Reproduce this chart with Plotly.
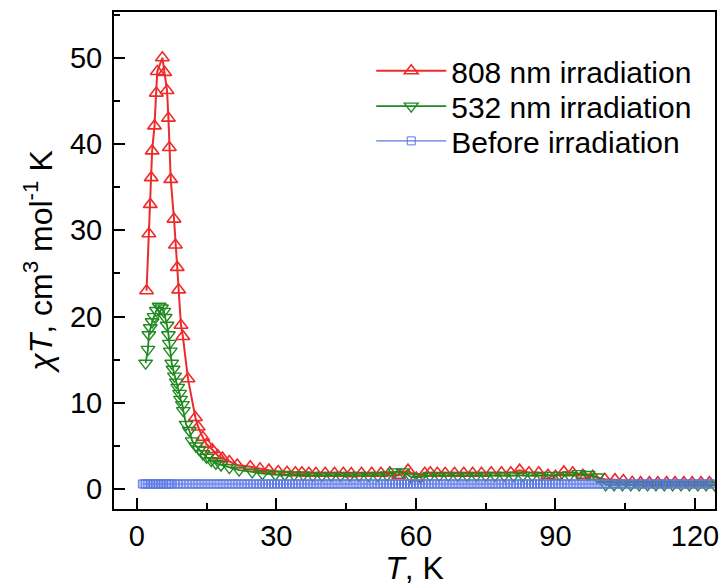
import plotly.graph_objects as go

# ---------------- data ----------------
red_T = [2.1, 2.6, 2.9, 3.1, 3.3, 3.8, 4.2, 4.4, 5.5, 6.0, 6.5, 6.8, 7.0, 7.3,
         8.0, 8.3, 8.7, 9.0, 9.5, 9.9, 11.0, 12.6, 13.2, 14.2, 15.0, 16.2,
         17.4, 18.4, 19.9, 21.6, 24.4, 26.5, 28.4, 30.4, 32.3, 34.1, 35.5,
         37.0, 38.5, 40.5, 42.5, 44.4, 46.1, 48.3, 50.5, 52.5, 54.4, 56.3,
         58.3, 60.1, 61.9, 63.1, 64.6, 66.3, 68.3, 70.3, 72.2, 74.1, 76.2,
         78.4, 80.4, 82.3, 84.3, 86.4, 88.4, 90.0, 91.8, 93.7, 95.9, 98.0,
         100.6, 102.8, 104.6, 106.5, 108.3, 110.2, 112.0, 113.9, 115.7,
         117.6, 119.4, 121.3, 123.1]
red_chiT = [23.0, 29.6, 33.0, 36.1, 39.2, 42.1, 45.9, 48.4, 50.0, 48.3, 46.2,
            43.0, 39.6, 35.9, 31.3, 28.3, 25.7, 23.1, 19.0, 17.7, 12.8, 8.3,
            7.2, 6.0, 5.2, 4.6, 3.9, 3.6, 3.2, 2.8, 2.6, 2.35, 2.2, 2.05,
            1.95, 1.9, 1.9, 1.85, 1.85, 1.85, 1.85, 1.85, 1.8, 1.85, 1.85,
            1.85, 1.9, 1.6, 2.2, 1.3, 1.85, 1.9, 1.85, 1.85, 1.85, 1.85, 1.85,
            1.85, 1.9, 1.9, 1.9, 2.2, 1.9, 1.9, 1.6, 1.5, 2.0, 1.9, 1.6, 1.5,
            1.15, 1.1, 1.0, 0.8, 0.75, 0.75, 0.75, 0.75, 0.75, 0.75, 0.75,
            0.75, 0.75]

green_T = [1.9, 2.4, 2.6, 2.9, 3.3, 3.7, 4.2, 4.8, 5.3, 5.8, 6.1, 6.5, 6.8,
           7.0, 7.2, 7.5, 7.8, 8.1, 8.5, 8.8, 9.2, 9.4, 9.8, 10.0, 10.6, 11.3,
           11.9, 12.7, 13.4, 14.2, 15.0, 16.0, 17.0, 18.1, 19.9, 22.0, 24.8,
           27.0, 29.8, 31.8, 33.8, 35.8, 37.8, 39.8, 41.8, 43.8, 45.8, 47.8,
           49.8, 51.8, 53.8, 55.5, 57.2, 59.0, 61.0, 63.0, 65.0, 67.0, 69.0,
           71.0, 73.0, 75.0, 77.0, 79.0, 81.0, 83.0, 85.0, 87.0, 89.0, 91.0,
           93.0, 95.0, 97.0, 99.0, 100.8, 102.6, 104.4, 106.2, 108.0, 109.8,
           111.6, 113.4, 115.2, 117.0, 118.8, 120.6, 122.4, 124.2]
green_chiT = [14.6, 16.2, 17.9, 18.7, 19.4, 20.0, 20.7, 21.2, 21.0, 20.6, 19.9,
              19.0, 17.9, 16.9, 16.0, 14.6, 13.9, 13.1, 12.4, 11.8, 11.1, 10.4,
              9.8, 9.1, 7.5, 6.8, 5.6, 5.0, 4.6, 4.1, 3.7, 3.3, 3.0, 2.8, 2.5,
              2.2, 2.0, 1.8, 1.7, 1.7, 1.65, 1.65, 1.6, 1.6, 1.6, 1.6, 1.6,
              1.6, 1.6, 1.6, 1.65, 2.0, 2.0, 1.4, 1.4, 1.6, 1.6, 1.6, 1.6, 1.6,
              1.6, 1.6, 1.6, 1.6, 1.6, 1.6, 1.6, 1.6, 1.6, 1.6, 1.6, 1.8, 1.7,
              1.4, 0.5, 0.5, 0.5, 0.5, 0.5, 0.5, 0.5, 0.5, 0.5, 0.5, 0.5, 0.5,
              0.5, 0.5]

blue_T = [1.20, 1.55, 1.90, 2.25, 2.60, 2.95, 3.30, 3.65, 4.00, 4.35, 4.70,
          5.05, 5.40, 5.75, 6.10, 6.45, 6.80, 7.15, 7.50,
          8.15, 8.80, 9.45, 10.10, 10.75, 11.40, 12.05, 12.70, 13.35, 14.00,
          14.65, 15.30, 15.95, 16.60, 17.25, 17.90, 18.55, 19.20, 19.85, 20.50,
          21.15, 21.80, 22.45, 23.10, 23.75, 24.40, 25.05, 25.70, 26.35, 27.00,
          27.65, 28.30, 28.95, 29.60, 30.25, 30.90, 31.55, 32.20, 32.85, 33.50,
          34.15, 34.80, 35.45, 36.10, 36.75, 37.40, 38.05, 38.70, 39.35, 40.00,
          40.65, 41.30, 41.95, 42.60, 43.25, 43.90, 44.55, 45.20, 45.85, 46.50,
          47.15, 47.80, 48.45, 49.10, 49.75, 50.40, 51.05, 51.70, 52.35, 53.00,
          53.65, 54.30, 54.95, 55.60, 56.25, 56.90, 57.55, 58.20, 58.85, 59.50,
          60.15, 60.80, 61.45, 62.10, 62.75, 63.40, 64.05, 64.70, 65.35, 66.00,
          66.65, 67.30, 67.95, 68.60, 69.25, 69.90, 70.55, 71.20, 71.85, 72.50,
          73.15, 73.80, 74.45, 75.10, 75.75, 76.40, 77.05, 77.70, 78.35, 79.00,
          79.65, 80.30, 80.95, 81.60, 82.25, 82.90, 83.55, 84.20, 84.85, 85.50,
          86.15, 86.80, 87.45, 88.10, 88.75, 89.40, 90.05, 90.70, 91.35, 92.00,
          92.65, 93.30, 93.95, 94.60, 95.25, 95.90, 96.55, 97.20, 97.85, 98.50,
          99.15, 99.80, 100.45, 101.10, 101.75, 102.40, 103.05, 103.70, 104.35,
          105.00, 105.65, 106.30, 106.95, 107.60, 108.25, 108.90, 109.55,
          110.20, 110.85, 111.50, 112.15, 112.80, 113.45, 114.10, 114.75,
          115.40, 116.05, 116.70, 117.35, 118.00, 118.65, 119.30, 119.95,
          120.60, 121.25, 121.90, 122.55, 123.20, 123.85]
blue_chiT = [0.6, 0.6, 0.6, 0.6, 0.6, 0.6, 0.6, 0.6, 0.6, 0.6, 0.6, 0.6, 0.6,
             0.6, 0.6, 0.6, 0.6, 0.6, 0.6,
             0.6, 0.6, 0.6, 0.6, 0.6, 0.6, 0.6, 0.6, 0.6, 0.6, 0.6, 0.6, 0.6,
             0.6, 0.6, 0.6, 0.6, 0.6, 0.6, 0.6, 0.6, 0.6, 0.6, 0.6, 0.6, 0.6,
             0.6, 0.6, 0.6, 0.6, 0.6, 0.6, 0.6, 0.6, 0.6, 0.6, 0.6, 0.6, 0.6,
             0.6, 0.6, 0.6, 0.6, 0.6, 0.6, 0.6, 0.6, 0.6, 0.6, 0.6, 0.6, 0.6,
             0.6, 0.6, 0.6, 0.6, 0.6, 0.6, 0.6, 0.6, 0.6, 0.6, 0.6, 0.6, 0.6,
             0.6, 0.6, 0.6, 0.6, 0.6, 0.6, 0.6, 0.6, 0.6, 0.6, 0.6, 0.6, 0.6,
             0.6, 0.6, 0.6, 0.6, 0.6, 0.6, 0.6, 0.6, 0.6, 0.6, 0.6, 0.6, 0.6,
             0.6, 0.6, 0.6, 0.6, 0.6, 0.6, 0.6, 0.6, 0.6, 0.6, 0.6, 0.6, 0.6,
             0.6, 0.6, 0.6, 0.6, 0.6, 0.6, 0.6, 0.6, 0.6, 0.6, 0.6, 0.6, 0.6,
             0.6, 0.6, 0.6, 0.6, 0.6, 0.6, 0.6, 0.6, 0.6, 0.6, 0.6, 0.6, 0.6,
             0.6, 0.6, 0.6, 0.6, 0.6, 0.6, 0.6, 0.6, 0.6, 0.6, 0.6, 0.6, 0.6,
             0.6, 0.6, 0.6, 0.6, 0.6, 0.6, 0.6, 0.6, 0.6, 0.6, 0.6, 0.6, 0.6,
             0.6, 0.6, 0.6, 0.6, 0.6, 0.6, 0.6, 0.6, 0.6, 0.6, 0.6, 0.6, 0.6,
             0.6, 0.6, 0.6, 0.6, 0.6, 0.6, 0.6, 0.6, 0.6, 0.6, 0.6]

series_names = ["808 nm irradiation", "532 nm irradiation", "Before irradiation"]
x_ticks = [0, 30, 60, 90, 120]
y_ticks = [0, 10, 20, 30, 40, 50]

# ---------------- styling ----------------
RED = "#ee2b2b"
GREEN = "#1f8a1f"
BLUE = "#5b78e4"
FONT = "Liberation Sans, Arial, sans-serif"

fig = go.Figure()
fig.add_trace(go.Scatter(
    x=red_T, y=red_chiT, name=series_names[0], mode="lines+markers",
    legend="legend",
    line=dict(color=RED, width=2),
    marker=dict(symbol="triangle-up-open", size=12, color=RED,
                line=dict(width=1.6, color=RED))))
fig.add_trace(go.Scatter(
    x=green_T, y=green_chiT, name=series_names[1], mode="lines+markers",
    legend="legend2",
    line=dict(color=GREEN, width=1.8),
    marker=dict(symbol="triangle-down-open", size=12, color=GREEN,
                line=dict(width=1.4, color=GREEN))))
fig.add_trace(go.Scatter(
    x=blue_T, y=blue_chiT, name=series_names[2], mode="lines+markers",
    legend="legend3",
    line=dict(color=BLUE, width=1.2),
    marker=dict(symbol="square-open", size=8, color=BLUE,
                line=dict(width=1, color=BLUE))))

axis_common = dict(
    showline=True, linecolor="black", linewidth=2, mirror=True,
    ticks="inside", tickcolor="black", tickwidth=2, ticklen=11,
    showgrid=False, zeroline=False,
    tickfont=dict(family=FONT, size=29, color="black"),
)

fig.update_xaxes(
    range=[-4.9, 124.3], tickvals=x_ticks,
    minor=dict(ticks="inside", ticklen=6, tickwidth=2, tickcolor="black",
               dtick=15, tick0=0),
    title=dict(text="<i>T</i>, K", font=dict(family=FONT, size=32, color="black"),
               standoff=6),
    **axis_common)
fig.update_yaxes(
    range=[-2.3, 55.3], tickvals=y_ticks, ticklabelstandoff=4,
    minor=dict(ticks="inside", ticklen=6, tickwidth=2, tickcolor="black",
               dtick=5, tick0=0),
    title=dict(text="<i>χT</i>, cm<sup>3</sup> mol<sup>-1</sup> K",
               font=dict(family=FONT, size=32, color="black"), standoff=8),
    **axis_common)

leg_common = dict(xanchor="left", yanchor="top", bgcolor="rgba(0,0,0,0)",
                  borderwidth=0, itemwidth=70,
                  font=dict(family=FONT, size=30, color="black"))
fig.update_layout(
    width=725, height=586,
    margin=dict(l=114, r=6, t=12, b=76),
    plot_bgcolor="white", paper_bgcolor="white",
    font=dict(family=FONT, color="black"),
    showlegend=True,
    legend=dict(x=0.428, y=0.934, **leg_common),
    legend2=dict(x=0.428, y=0.863, **leg_common),
    legend3=dict(x=0.428, y=0.793, **leg_common),
)

fig.write_html("out.html")
